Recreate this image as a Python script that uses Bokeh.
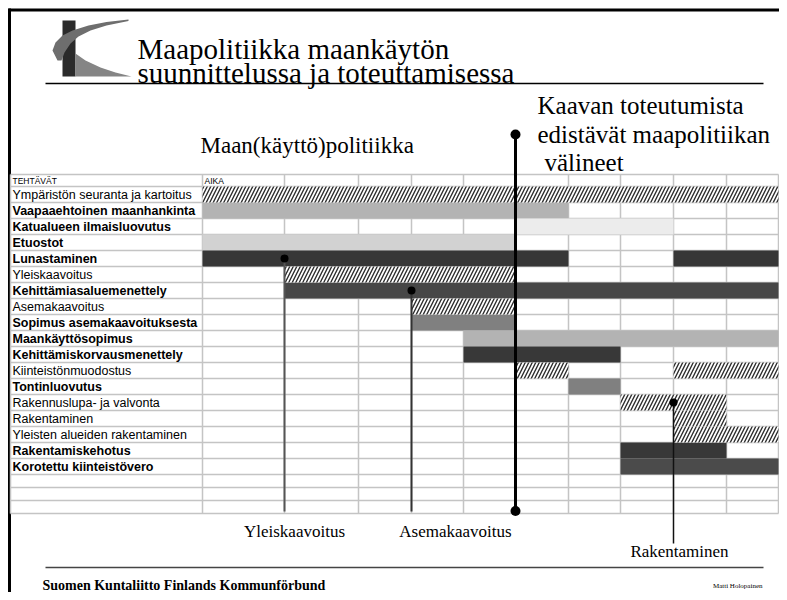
from bokeh.plotting import figure
from bokeh.models import Range1d, ColumnDataSource
from bokeh.core.properties import value
from bokeh.embed import file_html
from bokeh.resources import INLINE

# ---------------- data ----------------
TASKS = [
    "Ympäristön seuranta ja kartoitus",
    "Vaapaaehtoinen maanhankinta",
    "Katualueen ilmaisluovutus",
    "Etuostot",
    "Lunastaminen",
    "Yleiskaavoitus",
    "Kehittämiasaluemenettely",
    "Asemakaavoitus",
    "Sopimus asemakaavoituksesta",
    "Maankäyttösopimus",
    "Kehittämiskorvausmenettely",
    "Kiinteistönmuodostus",
    "Tontinluovutus",
    "Rakennuslupa- ja valvonta",
    "Rakentaminen",
    "Yleisten alueiden rakentaminen",
    "Rakentamiskehotus",
    "Korotettu kiinteistövero",
]
BOLD = [False, True, True, True, True, False, True, False, True,
        True, True, False, True, False, False, False, True, True]
N_EMPTY_ROWS = 3
N_PERIODS = 10

# bars: task index, start period, end period, style
BAR_TASK = [0, 1, 2, 3, 4, 4, 5, 6, 7, 8, 9, 10, 11, 11, 12, 13, 14, 15, 16, 17]
BAR_START = [0, 0, 5, 0, 0, 8, 1, 1, 3, 3, 4, 4, 5, 8, 6, 7, 8, 8, 7, 7]
BAR_END = [10, 6, 8, 5, 6, 10, 5, 10, 5, 5, 10, 7, 6, 10, 7, 9, 9, 10, 9, 10]
BAR_STYLE = ["hatch", "#b3b3b3", "#ececec", "#d2d2d2", "#373737", "#373737",
             "hatch", "#474747", "hatch", "#808080", "#b3b3b3", "#383838",
             "hatch", "hatch", "#808080", "hatch", "hatch", "hatch",
             "#383838", "#4b4b4b"]

# milestones: label, period boundary, task row
MS_LABEL = ["Yleiskaavoitus", "Asemakaavoitus", "Rakentaminen"]
MS_PERIOD = [1, 3, 8]
MS_ROW = [4, 6, 13]
DIVIDER_PERIOD = 5

TITLE_LINES = ["Maapolitiikka maankäytön", "suunnittelussa ja toteuttamisessa"]
LEFT_HEADING = "Maan(käyttö)politiikka"
RIGHT_HEADING = ["Kaavan toteutumista", "edistävät maapolitiikan", "välineet"]
FOOTER_LEFT = "Suomen Kuntaliitto Finlands Kommunförbund"
FOOTER_RIGHT = "Matti Holopainen"
HEAD_TASK = "TEHTÄVÄT"
HEAD_TIME = "AIKA"

# ---------------- layout ----------------
W, H = 779, 592
COL_EDGES = [202, 284, 358, 411, 463, 515, 568, 620, 673, 726, 778]
LABEL_LEFT = 10
HEAD_TOP, HEAD_BOT = 174, 186
ROW_H = 16.0
EMPTY_ROW_H = 13.0

row_edges = [HEAD_BOT + ROW_H * i for i in range(len(TASKS) + 1)]
for i in range(N_EMPTY_ROWS):
    row_edges.append(row_edges[-1] + EMPTY_ROW_H)
GRID_BOTTOM = row_edges[-1]

def row_mid(i):
    return (row_edges[i] + row_edges[i + 1]) / 2

p = figure(width=W, height=H, output_backend="svg", toolbar_location=None,
           x_range=Range1d(0, W), y_range=Range1d(H, 0),
           min_border=0, outline_line_color=None, background_fill_color="white")
p.axis.visible = False
p.grid.visible = False

SERIF = value("Liberation Serif")
SANS = value("Liberation Sans")

# frame
p.segment(x0=[9], y0=[8], x1=[9], y1=[H], line_color="black", line_width=3)
p.segment(x0=[8], y0=[9.5], x1=[W], y1=[9.5], line_color="black", line_width=3)

# logo
p.quad(left=[62], right=[75], top=[20], bottom=[76], fill_color="#2b2b2b", line_color=None)
p.patch(x=[52, 55, 62, 72, 88, 106, 128, 128, 106, 90, 78, 70, 64, 61, 57],
        y=[50, 42, 35, 30, 25, 21.5, 19, 20.5, 25, 30, 36, 43, 52, 60, 60],
        fill_color="#6e6e6e", line_color=None)
p.patch(x=[75, 85, 100, 115, 131, 100, 75], y=[53, 60, 67, 72, 76, 76, 76],
        fill_color="#858585", line_color=None)

# title
p.text(x=[137, 137], y=[48, 72], text=TITLE_LINES, text_font=SERIF,
       text_font_size="29px", text_baseline="alphabetic", text_color="black")
p.segment(x0=[45], y0=[83], x1=[763], y1=[83], line_color="black", line_width=1.5)

# headings
p.text(x=[200], y=[145], text=[LEFT_HEADING], text_font=SERIF, text_font_size="23px",
       text_baseline="middle", text_color="black")
p.text(x=[537, 537, 544], y=[105, 134, 162], text=RIGHT_HEADING, text_font=SERIF,
       text_font_size="25px", text_baseline="middle", text_color="black")

# grid lines
gx0, gy0, gx1, gy1 = [], [], [], []
for y in [HEAD_TOP] + row_edges:
    gx0.append(LABEL_LEFT); gx1.append(COL_EDGES[-1]); gy0.append(y); gy1.append(y)
for x in [LABEL_LEFT] + COL_EDGES:
    gx0.append(x); gx1.append(x); gy0.append(HEAD_TOP); gy1.append(GRID_BOTTOM)
p.segment(x0=gx0, y0=gy0, x1=gx1, y1=gy1, line_color="#c4c4c4", line_width=1.5)

# bars
solid = dict(l=[], r=[], t=[], b=[], c=[])
hatch = dict(l=[], r=[], t=[], b=[])
for ti, s, e, st in zip(BAR_TASK, BAR_START, BAR_END, BAR_STYLE):
    d = hatch if st == "hatch" else solid
    d["l"].append(COL_EDGES[s]); d["r"].append(COL_EDGES[e])
    d["t"].append(row_edges[ti]); d["b"].append(row_edges[ti + 1])
    if st != "hatch":
        d["c"].append(st)
p.quad(left="l", right="r", top="t", bottom="b", fill_color="c", line_color=None,
       source=ColumnDataSource(solid))
p.quad(left="l", right="r", top="t", bottom="b", fill_color="white", line_color=None,
       hatch_pattern="/", hatch_color="#2e2e2e", hatch_weight=1.4, hatch_scale=7,
       source=ColumnDataSource(hatch))

# header texts
p.text(x=[12], y=[(HEAD_TOP + HEAD_BOT) / 2], text=[HEAD_TASK], text_font=SANS,
       text_font_size="8.5px", text_baseline="middle", text_color="black")
p.text(x=[COL_EDGES[0] + 2], y=[(HEAD_TOP + HEAD_BOT) / 2], text=[HEAD_TIME], text_font=SANS,
       text_font_size="8.5px", text_baseline="middle", text_color="black")

# task labels
for bold in (False, True):
    idx = [i for i in range(len(TASKS)) if BOLD[i] == bold]
    p.text(x=[12] * len(idx), y=[row_mid(i) for i in idx], text=[TASKS[i] for i in idx],
           text_font=SANS, text_font_size="12.5px", text_baseline="middle",
           text_font_style="bold" if bold else "normal", text_color="black")

# milestone lines
ms_colors = ["#555555", "#333333", "#111111"]
ms_ends = [GRID_BOTTOM - 2, GRID_BOTTOM - 2, 543]
ms_widths = [2, 2, 1.5]
for k in range(len(MS_LABEL)):
    x = COL_EDGES[MS_PERIOD[k]]
    y = row_mid(MS_ROW[k])
    p.segment(x0=[x], y0=[y], x1=[x], y1=[ms_ends[k]], line_color=ms_colors[k],
              line_width=ms_widths[k])
    p.scatter(x=[x], y=[y], size=8, fill_color="black", line_color=None)

ms_text_x = [294, 455, 679]
ms_text_y = [531, 531, 551]
p.text(x=ms_text_x, y=ms_text_y, text=MS_LABEL, text_font=SERIF, text_font_size="17px",
       text_align="center", text_baseline="middle", text_color="black")

# divider line
dx = COL_EDGES[DIVIDER_PERIOD]
bottom_dot = row_mid(len(row_edges) - 2) + 4
p.segment(x0=[dx], y0=[134], x1=[dx], y1=[bottom_dot], line_color="black", line_width=3)
p.scatter(x=[dx, dx], y=[134, bottom_dot], size=10, fill_color="black", line_color=None)

# footer
p.segment(x0=[45], y0=[567], x1=[763], y1=[567], line_color="#444444", line_width=1.5)
p.text(x=[42], y=[585], text=[FOOTER_LEFT], text_font=SERIF, text_font_size="14px",
       text_font_style="bold", text_baseline="middle", text_color="black")
p.text(x=[762], y=[585], text=[FOOTER_RIGHT], text_font=SERIF, text_font_size="7px",
       text_align="right", text_baseline="middle", text_color="black")

open("out.html", "w").write(file_html(p, INLINE))
